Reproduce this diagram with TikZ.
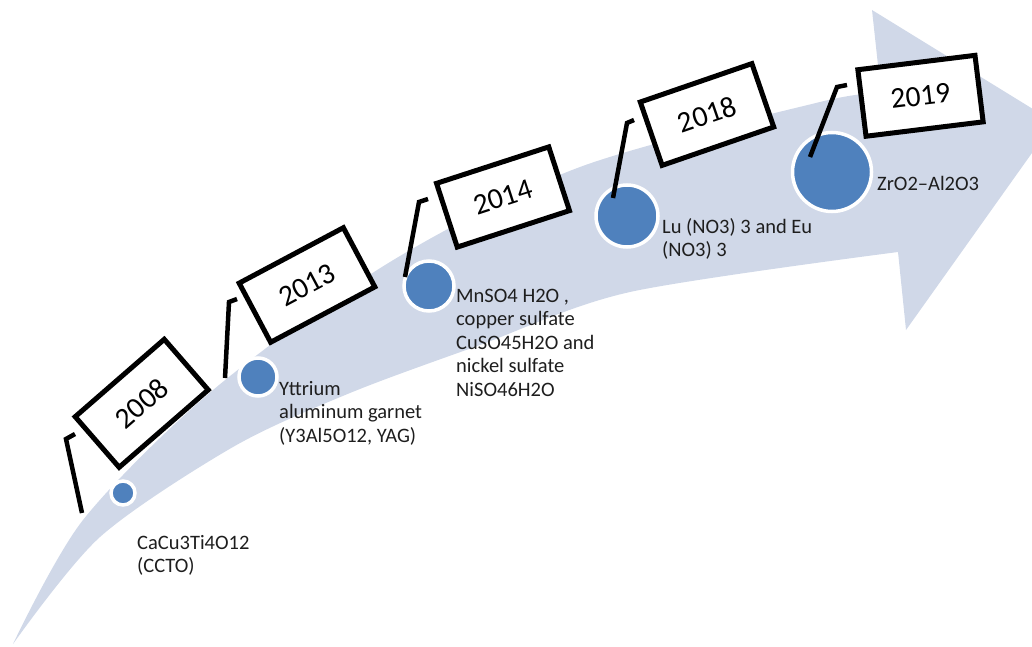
\documentclass[tikz,border=0pt]{standalone}
\usepackage{fontspec}
\setmainfont{Carlito}
\usepackage{xcolor}
\usetikzlibrary{calc}
\definecolor{bandBlue}{RGB}{208,216,232}
\definecolor{dotBlue}{RGB}{79,129,189}
\definecolor{labelGray}{RGB}{30,30,30}
\tikzset{
yearBox/.style={draw=black, fill=white, line width=5pt, inner sep=0pt,
    minimum width=118pt, minimum height=67pt,
    font=\fontsize{29.5}{32}\selectfont},
dotMe/.style={circle, fill=dotBlue, draw=white, line width=3.5pt, inner sep=0pt,
    minimum size=#1},
legMe/.style={line width=4.5pt, line join=miter},
labelMe/.style={anchor=north west, align=left, inner sep=0pt, text=labelGray,
    font=\fontsize{20.5}{23.4}\selectfont}
}

\begin{document}
\begin{tikzpicture}[x=1pt,y=-1pt]
    \useasboundingbox (0,0) rectangle (1032,647);
    \begin{scope}
    \clip (0,0) rectangle (1032,647);
    \fill[bandBlue] plot[smooth] coordinates {(13,644) (83,520) (213,390) (390,262) (580,167) (820,102) (881,93)}
        -- (872,10) -- (1054,122) -- (906,330) -- (898,252)
        -- plot[smooth] coordinates {(898,252) (630,292) (480,345) (350,393) (233,447) (100,537) (13,644)} -- cycle;
    \end{scope}

    \node[dotMe=24pt] (c_1) at (123,493) {};
    \node[dotMe=38pt] (c_2) at (258,377) {};
    \node[dotMe=50pt] (c_3) at (429,286) {};
    \node[dotMe=62pt] (c_4) at (627,216) {};
    \node[dotMe=79pt] (c_5) at (832,172) {};

    \coordinate (f_1) at (82,513);  \coordinate (k_1) at (66,439);  \coordinate (h_1) at (75,434);
    \coordinate (f_2) at (225,378); \coordinate (k_2) at (229,302); \coordinate (h_2) at (237,299);
    \coordinate (f_3) at (405,277); \coordinate (k_3) at (419,202); \coordinate (h_3) at (428,199);
    \coordinate (f_4) at (613,198); \coordinate (k_4) at (627,123); \coordinate (h_4) at (634,120);
    \coordinate (f_5) at (810,157); \coordinate (k_5) at (837,87);  \coordinate (h_5) at (847,85);
    \draw[legMe] (f_1) -- (k_1) -- (h_1);
    \draw[legMe] (f_2) -- (k_2) -- (h_2);
    \draw[legMe] (f_3) -- (k_3) -- (h_3);
    \draw[legMe] (f_4) -- (k_4) -- (h_4);
    \draw[legMe] (f_5) -- (k_5) -- (h_5);

    \node[yearBox, rotate=41] (y_1) at (141.7,403.3) {2008};
    \node[yearBox, rotate=28] (y_2) at (307,285) {2013};
    \node[yearBox, rotate=18] (y_3) at (503,197) {2014};
    \node[yearBox, rotate=19] (y_4) at (707,114.5) {2018};
    \node[yearBox, rotate=7] (y_5) at (920.5,95.8) {2019};

    \node[labelMe] (l_1) at (137,535) {CaCu3Ti4O12\\(CCTO)};
    \node[labelMe] (l_2) at (279,381) {Yttrium\\aluminum garnet\\(Y3Al5O12, YAG)};
    \node[labelMe] (l_3) at (456,289) {MnSO4 H2O ,\\copper sulfate\\CuSO45H2O and\\nickel sulfate\\NiSO46H2O};
    \node[labelMe] (l_4) at (662,218) {Lu (NO3) 3 and Eu\\(NO3) 3};
    \node[labelMe] (l_5) at (877,176) {ZrO2–Al2O3};
\end{tikzpicture}
\end{document}
